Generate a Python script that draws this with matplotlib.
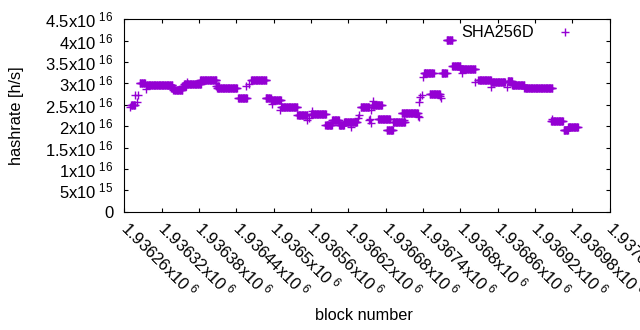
import numpy as np
import matplotlib
matplotlib.use("Agg")
import matplotlib.pyplot as plt
from matplotlib.ticker import FuncFormatter, MultipleLocator

plt.rcParams['font.family'] = ['Liberation Sans', 'DejaVu Sans']
plt.rcParams['mathtext.default'] = 'regular'

# runs of blocks with the same hashrate (block range, value in 1e16 h/s)
seg_start = [1936269, 1936271, 1936278, 1936280, 1936282, 1936285, 1936295, 1936295,
             1936335, 1936339, 1936353, 1936356, 1936361, 1936382, 1936408, 1936409,
             1936443, 1936455, 1936460, 1936464, 1936487, 1936495, 1936497, 1936511,
             1936512, 1936538, 1936553, 1936557, 1936560, 1936562, 1936583, 1936594,
             1936605, 1936613, 1936624, 1936635, 1936637, 1936640, 1936653, 1936655,
             1936656, 1936656, 1936658, 1936660, 1936668, 1936682, 1936692, 1936709,
             1936706, 1936732, 1936734, 1936734, 1936735, 1936738, 1936740, 1936743,
             1936742, 1936751, 1936767, 1936769, 1936770, 1936778, 1936787, 1936800,
             1936802, 1936824, 1936829, 1936849, 1936849, 1936875, 1936876, 1936883,
             1936903, 1936946, 1936947, 1936966, 1936973]
seg_end = [1936269, 1936277, 1936278, 1936280, 1936282, 1936293, 1936295, 1936337,
           1936340, 1936353, 1936359, 1936383, 1936361, 1936408, 1936412, 1936441,
           1936457, 1936455, 1936460, 1936488, 1936495, 1936512, 1936497, 1936511,
           1936538, 1936554, 1936553, 1936557, 1936584, 1936562, 1936594, 1936605,
           1936613, 1936634, 1936624, 1936635, 1936637, 1936653, 1936653, 1936655,
           1936656, 1936656, 1936674, 1936660, 1936687, 1936692, 1936711, 1936709,
           1936732, 1936732, 1936734, 1936734, 1936735, 1936738, 1936740, 1936743,
           1936757, 1936767, 1936767, 1936769, 1936778, 1936787, 1936800, 1936824,
           1936802, 1936824, 1936849, 1936872, 1936849, 1936875, 1936883, 1936903,
           1936948, 1936965, 1936947, 1936973, 1936989]
seg_value = [2.46, 2.50, 2.74, 2.57, 2.74, 3.01, 2.87, 2.96,
             2.90, 2.85, 2.93, 2.99, 3.04, 3.07, 2.94, 2.89,
             2.65, 2.94, 2.99, 3.07, 2.65, 2.61, 2.53, 2.38,
             2.45, 2.26, 2.14, 2.20, 2.28, 2.36, 2.03, 2.14,
             2.03, 2.10, 1.99, 2.18, 2.26, 2.46, 2.14, 2.16,
             2.07, 2.39, 2.50, 2.60, 2.17, 1.91, 2.09, 2.14,
             2.30, 2.24, 2.21, 2.57, 2.69, 2.73, 3.16, 3.24,
             3.24, 2.75, 2.70, 2.66, 3.24, 4.02, 3.40, 3.34,
             3.25, 3.04, 3.09, 3.03, 2.92, 2.91, 3.06, 2.97,
             2.89, 2.13, 2.16, 1.91, 1.99]

blocks = np.concatenate([np.arange(s, e + 1) for s, e in zip(seg_start, seg_end)])
hashrate = np.concatenate([np.full(e - s + 1, v * 1e16)
                           for s, e, v in zip(seg_start, seg_end, seg_value)])

x_min, x_max, x_step = 1936260, 1937040, 60
y_max, y_step = 4.5e16, 5e15


def sci_label(v):
    if v == 0:
        return '0'
    exp = int(np.floor(np.log10(abs(v)) + 1e-9))
    mant = v / 10**exp
    return '%gx10$^{\\ %d}$' % (round(mant, 5), exp)


fig = plt.figure(figsize=(6.4, 3.3), dpi=100)
ax = fig.add_axes([124.3 / 640, 1 - 211.7 / 330, 485.3 / 640, 192.4 / 330])

ax.plot(blocks, hashrate, linestyle='none', marker='+', ms=5.6, mew=1.0,
        color='#9400d3', label='SHA256D')

ax.set_xlim(x_min, x_max)
ax.set_ylim(0, y_max)
ax.xaxis.set_major_locator(MultipleLocator(x_step))
ax.yaxis.set_major_locator(MultipleLocator(y_step))
ax.xaxis.set_major_formatter(FuncFormatter(lambda v, p: sci_label(v)))
ax.yaxis.set_major_formatter(FuncFormatter(lambda v, p: sci_label(v)))

ax.tick_params(direction='in', length=3, width=0.8, top=True, right=True,
               labelsize=12)
ax.tick_params(axis='y', pad=8)
ax.tick_params(axis='x', pad=9)
for lab in ax.get_xticklabels():
    lab.set_rotation(-45)
    lab.set_ha('left')
    lab.set_va('center')
    lab.set_rotation_mode('anchor')
for sp in ax.spines.values():
    sp.set_linewidth(0.8)

fig.text(17 / 640, 1 - 115.5 / 330, 'hashrate [h/s]', rotation=90,
         ha='center', va='center', fontsize=11.7)
fig.text(364 / 640, 1 - 315 / 330, 'block number', ha='center', va='center',
         fontsize=11.7)

ax.legend(loc='center right', bbox_to_anchor=(592.6 / 640, 1 - 32.7 / 330),
          bbox_transform=fig.transFigure, frameon=False, markerfirst=False,
          handlelength=3.4, handletextpad=0.2, borderpad=0, borderaxespad=0,
          fontsize=11.7)

fig.savefig('out.png', dpi=100)
